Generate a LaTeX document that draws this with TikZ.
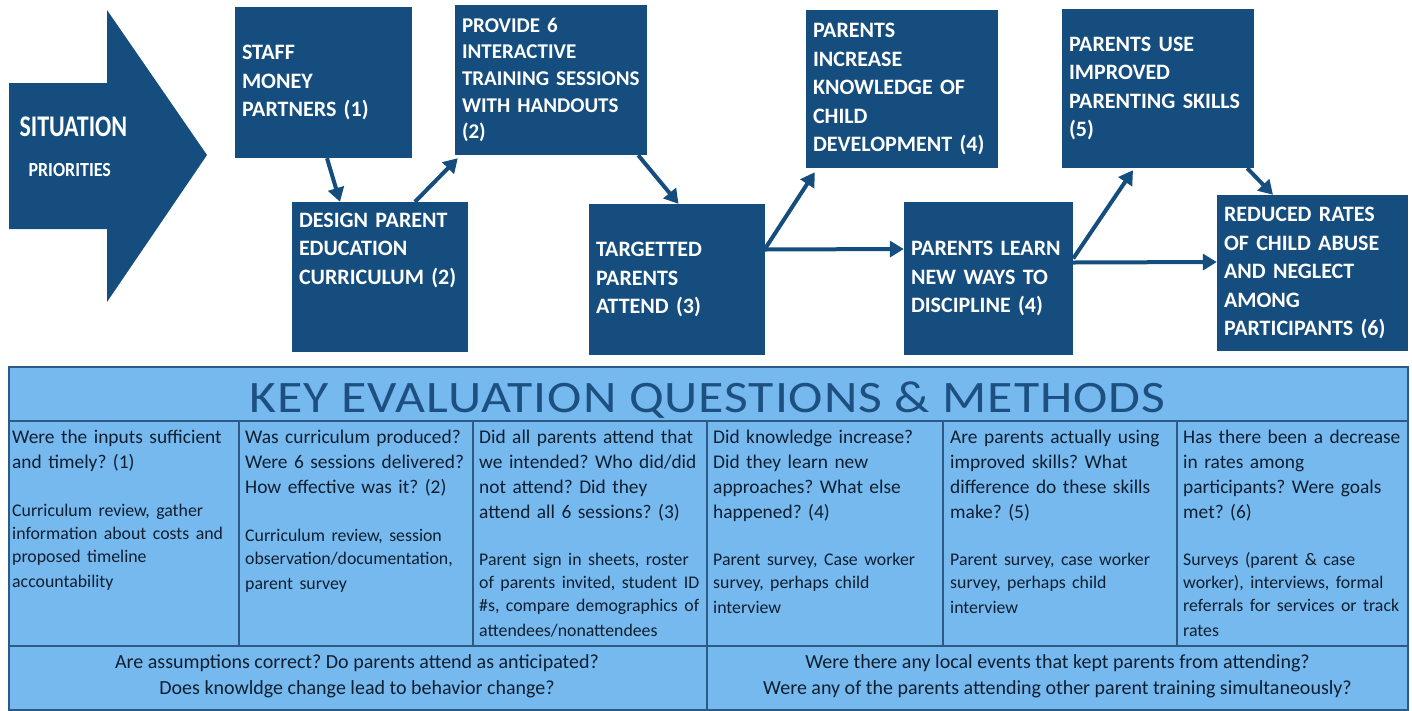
\documentclass[tikz,border=0pt]{standalone}
\usepackage{fontspec}
\setmainfont{Carlito}
\newfontfamily\narrowfont[FakeStretch=0.8]{Carlito}
\newfontfamily\slimfont[FakeStretch=0.9]{Carlito}
\newfontfamily\widefont[FakeStretch=1.15,LetterSpace=2]{Carlito}
\usetikzlibrary{arrows.meta,positioning}
\frenchspacing
\hyphenpenalty=10000

\definecolor{boxblue}{HTML}{154E7E}
\definecolor{panelblue}{HTML}{75B9EE}
\definecolor{gridblue}{HTML}{2A5A85}
\definecolor{headblue}{HTML}{1D5080}
\definecolor{inkblue}{HTML}{0F1F30}

\newcommand\askfont{\fontsize{19.4}{25}\selectfont}
\newcommand\howfont{\fontsize{17.8}{22.7}\selectfont}

\tikzset{
  stepbox/.style 2 args={fill=boxblue, text=white, align=left, inner xsep=7pt, inner ysep=0pt,
    font=\bfseries\fontsize{22}{28.5}\selectfont, text width=#1, minimum height=#2},
  flow/.style={draw=boxblue, line width=4pt, -{Triangle[length=14pt,width=16pt]}},
  grid/.style={draw=gridblue, line width=2pt},
  cell/.style={anchor=north west, inner sep=0pt, text=inkblue, align=left, text width=250pt,
    font=\askfont, execute at begin node=\strut},
  foot/.style={text=inkblue, align=center, font=\fontsize{20}{26}\selectfont},
}

\begin{document}
\begin{tikzpicture}[x=1pt, y=-1pt]
  \useasboundingbox (0,0) rectangle (1412,710);

  % 情况箭头
  \fill[boxblue] (9,83) -- (107,83) -- (107,10) -- (207,155) -- (107,302) -- (107,229) -- (9,229) -- cycle;
  \node[anchor=west, text=white, font=\narrowfont\bfseries\fontsize{30}{30}\selectfont] (situation) at (16,127) {SITUATION};
  \node[anchor=west, text=white, font=\slimfont\bfseries\fontsize{20}{20}\selectfont] (priorities) at (25,170) {PRIORITIES};

  % 逻辑模型
  \node[stepbox={163pt}{151pt}] (inputs) at (323.5,82.5) {STAFF\\ MONEY\\ PARTNERS (1)};
  \node[stepbox={162pt}{150pt}] (design) at (380,277) {DESIGN PARENT\\ EDUCATION\\ CURRICULUM (2)\\ ~\\ ~};
  \node[stepbox={178pt}{150pt}, font=\bfseries\fontsize{21}{26.7}\selectfont] (sessions) at (551,80) {PROVIDE 6\\ INTERACTIVE\\ \mbox{TRAINING SESSIONS}\\ WITH HANDOUTS\\ (2)};
  \node[stepbox={162pt}{151pt}] (attend) at (677,279.5) {TARGETTED\\ PARENTS\\ ATTEND (3)};
  \node[stepbox={178pt}{158pt}] (knowledge) at (902,89) {PARENTS\\ INCREASE\\ KNOWLEDGE OF\\ CHILD\\ DEVELOPMENT (4)};
  \node[stepbox={155pt}{153pt}] (discipline) at (988.5,278.5) {PARENTS LEARN\\ NEW WAYS TO\\ DISCIPLINE (4)};
  \node[stepbox={178pt}{159pt}] (skills) at (1158,88.5) {PARENTS USE\\ IMPROVED\\ \mbox{PARENTING SKILLS}\\ (5)};
  \node[stepbox={177pt}{156pt}] (reduced) at (1312.5,273) {REDUCED RATES\\ OF CHILD ABUSE\\ AND NEGLECT\\ AMONG\\ \mbox{PARTICIPANTS (6)}};

  % 连接
  \draw[flow] ([xshift=3.5pt]inputs.south) -- ([xshift=-40pt]design.north);
  \draw[flow] ([xshift=35pt]design.north) -- ([xshift=3pt,yshift=-3pt]sessions.south west);
  \draw[flow] ([xshift=-9pt]sessions.south east) -- ([xshift=1.5pt]attend.north);
  \draw[flow] ([yshift=31pt]attend.east) -- ([xshift=9pt,yshift=-4pt]knowledge.south west);
  \draw[flow] ([yshift=30pt]attend.east) -- ([yshift=29.5pt]discipline.west);
  \draw[flow] ([yshift=20pt]discipline.east) -- ([xshift=-25pt,yshift=-2pt]skills.south);
  \draw[flow] ([yshift=16pt]discipline.east) -- ([yshift=11pt]reduced.west);
  \draw[flow] ([xshift=-7pt]skills.south east) -- ([xshift=-39.5pt]reduced.north);

  % 评估表
  \fill[panelblue] (9,367) rectangle (1408,710);
  \draw[grid] (9,367) rectangle (1408,710);
  \draw[grid] (9,421) -- (1408,421) (9,646) -- (1408,646) (707,646) -- (707,710);
  \foreach \x in {239,473,707,943,1177}
      \draw[grid] (\x,421) -- (\x,646);

  \node[text=headblue, font=\widefont\fontsize{45}{45}\selectfont] (title) at (707.5,400) {KEY EVALUATION QUESTIONS \& METHODS};

  \node[cell] (cell-1) at (12,425.5) {Were the inputs sufficient\\ and timely? (1)\par\vspace{26pt}\howfont
    Curriculum review, gather\\ information about costs and\\ proposed timeline\\ accountability};
  \node[cell] (cell-2) at (245,425.5) {Was curriculum produced?\\ Were 6 sessions delivered?\\ How effective was it? (2)\par\vspace{26pt}\howfont
    Curriculum review, session\\ observation/documentation,\\ parent survey};
  \node[cell] (cell-3) at (479,425.5) {Did all parents attend that\\ we intended? Who did/did\\ not attend? Did they\\ attend all 6 sessions? (3)\par\vspace{25pt}\howfont
    Parent sign in sheets, roster\\ of parents invited, student ID\\ \#s, compare demographics of\\ attendees/nonattendees};
  \node[cell] (cell-4) at (713,425.5) {Did knowledge increase?\\ Did they learn new\\ approaches? What else\\ happened? (4)\par\vspace{25pt}\howfont
    Parent survey, Case worker\\ survey, perhaps child\\ interview};
  \node[cell] (cell-5) at (950,425.5) {Are parents actually using\\ improved skills? What\\ difference do these skills\\ make? (5)\par\vspace{25pt}\howfont
    Parent survey, case worker\\ survey, perhaps child\\ interview};
  \node[cell] (cell-6) at (1183,425.5) {Has there been a decrease\\ in rates among\\ participants? Were goals\\ met? (6)\par\vspace{25pt}\howfont
    Surveys (parent \& case\\ worker), interviews, formal\\ referrals for services or track\\ rates};

  \node[foot] (assume) at (357,676) {Are assumptions correct? Do parents attend as anticipated?\\ Does knowldge change lead to behavior change?};
  \node[foot] (events) at (1057.5,676) {Were there any local events that kept parents from attending?\\ Were any of the parents attending other parent training simultaneously?};

\end{tikzpicture}
\end{document}
